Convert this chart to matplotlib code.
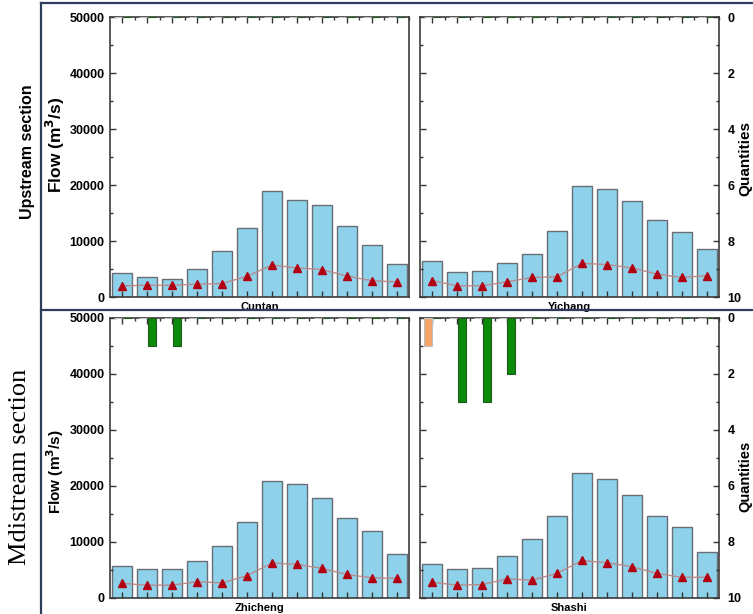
import numpy as np
import matplotlib
matplotlib.use("Agg")
import matplotlib.pyplot as plt
from matplotlib.lines import Line2D
from matplotlib.ticker import MultipleLocator

plt.rcParams['font.family'] = ['Liberation Sans', 'DejaVu Sans']
plt.rcParams['font.weight'] = 'bold'

months = np.arange(1, 13)

# monthly mean flow (bars) and the red triangle series, m3/s
cuntan_flow = [4200, 3500, 3300, 5000, 8200, 12300, 19000, 17400, 16400, 12600, 9200, 5900]
cuntan_tri = [2000, 2100, 2100, 2300, 2400, 3700, 5700, 5200, 4900, 3750, 2900, 2700]

yichang_flow = [6400, 4400, 4700, 6100, 7600, 11800, 19800, 19300, 17100, 13750, 11600, 8600]
yichang_tri = [2900, 2000, 2000, 2700, 3500, 3600, 6000, 5800, 5200, 4100, 3500, 3800]

zhicheng_flow = [5800, 5200, 5100, 6600, 9300, 13500, 20900, 20300, 17800, 14200, 12000, 7900]
zhicheng_tri = [2600, 2300, 2300, 2900, 2700, 4000, 6250, 6000, 5300, 4200, 3600, 3500]

shashi_flow = [6000, 5200, 5300, 7500, 10500, 14600, 22300, 21200, 18400, 14600, 12600, 8300]
shashi_tri = [2800, 2300, 2400, 3400, 3200, 4400, 6700, 6300, 5600, 4400, 3700, 3700]

# event quantities (hanging bars, right axis 0-10 inverted)
cuntan_orange = [0] * 12
cuntan_green = [0] * 12
yichang_orange = [0] * 12
yichang_green = [0] * 12
zhicheng_orange = [0] * 12
zhicheng_green = [0, 1, 1, 0, 0, 0, 0, 0, 0, 0, 0, 0]
shashi_orange = [1, 0, 0, 0, 0, 0, 0, 0, 0, 0, 0, 0]
shashi_green = [0, 3, 3, 2, 0, 0, 0, 0, 0, 0, 0, 0]

W, H = 753, 614
fig = plt.figure(figsize=(W / 100, H / 100), dpi=100)


def rect(x0, y0, x1, y1):
    return [x0 / W, 1 - y1 / H, (x1 - x0) / W, (y1 - y0) / H]


panels = [
    ("Cuntan", cuntan_flow, cuntan_tri, cuntan_orange, cuntan_green, rect(110, 17, 409, 297), "left"),
    ("Yichang", yichang_flow, yichang_tri, yichang_orange, yichang_green, rect(420, 17, 719, 297), "right"),
    ("Zhicheng", zhicheng_flow, zhicheng_tri, zhicheng_orange, zhicheng_green, rect(110, 318, 409, 598), "left"),
    ("Shashi", shashi_flow, shashi_tri, shashi_orange, shashi_green, rect(420, 318, 719, 598), "right"),
]

for name, flow, tri, orange, green, r, side in panels:
    ax = fig.add_axes(r)
    ax.bar(months, flow, 0.8, color='#8dd2ea', edgecolor='#6a6e74', linewidth=1.0)
    ax.plot(months, tri, color='#b98a8c', lw=1.0, marker='^', ms=6,
            mfc='#b00012', mec='#b00012')
    ax.set_xlim(0.5, 12.5)
    ax.set_ylim(0, 50000)
    ax.yaxis.set_major_locator(MultipleLocator(10000))
    ax.yaxis.set_minor_locator(MultipleLocator(5000))
    ax.set_xticks(months)
    ax.set_xticks(months + 0.5, minor=True)
    ax.tick_params(axis='x', which='major', direction='in', top=True, bottom=True,
                   length=4, width=1, labelbottom=False, color='#333333')
    ax.tick_params(axis='x', which='minor', direction='in', top=True, bottom=False,
                   length=2, width=1, color='#333333')
    ax.tick_params(axis='y', which='both', direction='in', left=True, right=(side == 'left'),
                   labelsize=9, pad=4, color='#333333', width=1)
    ax.tick_params(axis='y', which='major', length=4)
    ax.tick_params(axis='y', which='minor', length=2)
    ax.set_xlabel(name, fontsize=8, fontweight='bold', labelpad=0)
    for s in ax.spines.values():
        s.set_color('#3c3c3c')
        s.set_linewidth(1.2)
    if side == 'right':
        ax.tick_params(axis='y', labelleft=False)

    tw = ax.twinx()
    tw.set_ylim(10, 0)
    tw.bar(months - 0.17, orange, 0.32, color='#f4a56a', edgecolor='#c0c0c0', linewidth=0.8)
    tw.bar(months + 0.17, green, 0.32, color='#0b8a0b', edgecolor='#1e5a1e', linewidth=0.8)
    if side == 'right':
        tw.yaxis.set_major_locator(MultipleLocator(2))
        tw.yaxis.set_minor_locator(MultipleLocator(1))
        tw.tick_params(axis='y', which='both', direction='in', labelsize=9, pad=6,
                       color='#333333', width=1)
        tw.tick_params(axis='y', which='major', length=4)
        tw.tick_params(axis='y', which='minor', length=2)
    else:
        tw.tick_params(axis='y', right=False, labelright=False)
    for s in tw.spines.values():
        s.set_visible(False)

# axis titles placed to match the reference
fig.text(55 / W, 1 - 145 / H, 'Flow (m$^\\mathbf{3}$/s)', rotation=90, ha='center', va='center',
         fontsize=12.5, fontweight='bold')
fig.text(55 / W, 1 - 472 / H, 'Flow (m$^\\mathbf{3}$/s)', rotation=90, ha='center', va='center',
         fontsize=11, fontweight='bold')
fig.text(745 / W, 1 - 158 / H, 'Quantities', rotation=90, ha='center', va='center',
         fontsize=11, fontweight='bold')
fig.text(745 / W, 1 - 476 / H, 'Quantities', rotation=90, ha='center', va='center',
         fontsize=10.5, fontweight='bold')

# section labels
fig.text(28 / W, 1 - 152 / H, 'Upstream section', rotation=90, ha='center', va='center',
         fontsize=11.5, fontweight='bold')
fig.text(20 / W, 1 - 467 / H, 'Mdistream section', rotation=90, ha='center', va='center',
         fontsize=19, fontweight='normal', family=['Liberation Serif', 'DejaVu Serif'])

# dark frame lines
frame = '#2e3d5c'
fig.add_artist(Line2D([41 / W, 41 / W], [0, 1 - 3 / H], transform=fig.transFigure, color=frame, lw=1.6))
fig.add_artist(Line2D([41 / W, 1], [1 - 3 / H, 1 - 3 / H], transform=fig.transFigure, color=frame, lw=1.6))
fig.add_artist(Line2D([41 / W, 1], [1 - 310 / H, 1 - 310 / H], transform=fig.transFigure, color=frame, lw=1.6))

fig.savefig('out.png', dpi=100)
